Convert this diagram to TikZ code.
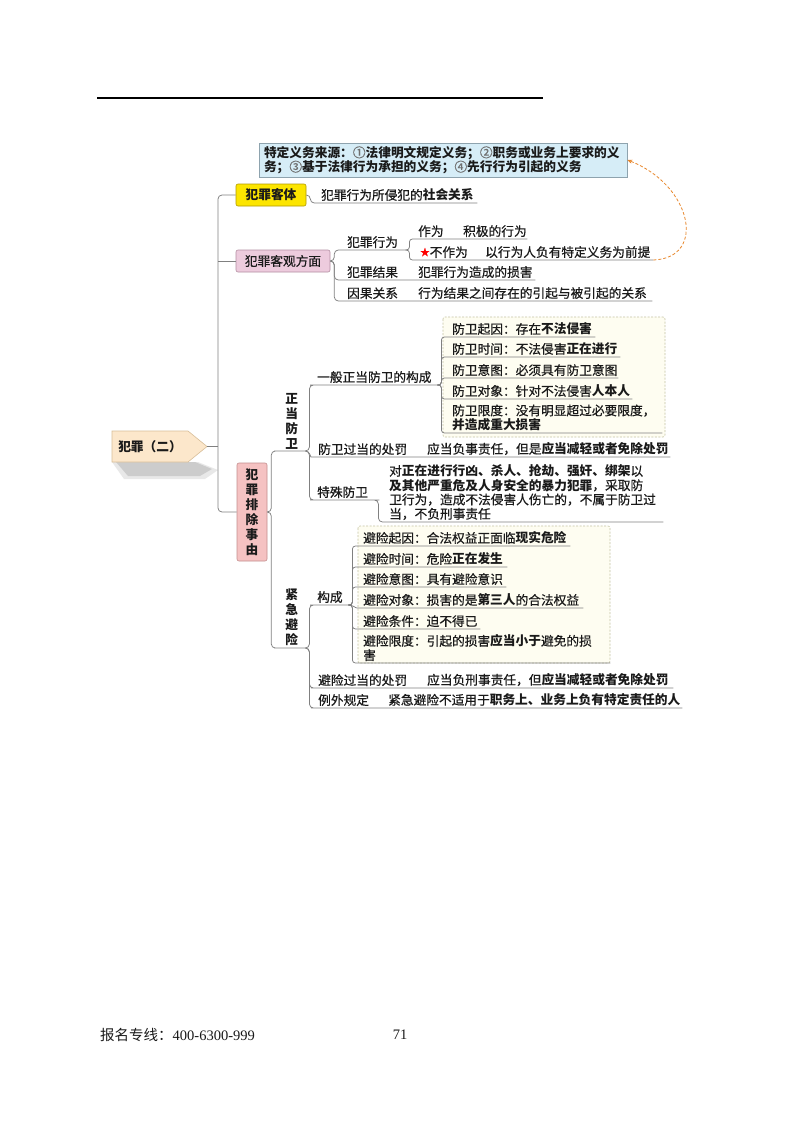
\documentclass[tikz,border=0pt]{standalone}
\usepackage{fontspec}
\setmainfont{Noto Sans CJK SC}
\newfontfamily\dg{Noto Sans CJK SC}[UprightFeatures={FakeBold=0.6}]
\newfontfamily\serifnum{Liberation Serif}
\usetikzlibrary{arrows.meta}
\definecolor{ktf}{HTML}{FCE500}
\definecolor{ktb}{HTML}{B09A00}
\definecolor{kgf}{HTML}{EDCBDD}
\definecolor{kgb}{HTML}{B48FA2}
\definecolor{pcf}{HTML}{F5C2C2}
\definecolor{pcb}{HTML}{C48E8E}
\definecolor{rootf}{HTML}{FCE7CB}
\definecolor{rootb}{HTML}{D8BE98}
\definecolor{deff}{HTML}{D6EDF7}
\definecolor{defb}{HTML}{8EA3AE}
\definecolor{grpf}{HTML}{FEFDF1}
\definecolor{grpb}{HTML}{C5C3A3}
\definecolor{lnc}{HTML}{808080}
\definecolor{arrc}{HTML}{E8872C}
\definecolor{numc}{HTML}{6F6F6F}
\definecolor{txt}{HTML}{1A1A1A}
\newcommand{\fs}{\dg\fontsize{12.7}{14.3}\selectfont}
\newcommand{\vfs}{\dg\fontsize{12.7}{15}\selectfont}
\newcommand{\cn}[1]{{\color{numc}\mdseries #1}}
\begin{document}
\begin{tikzpicture}[x=1pt,y=-1pt,
  conn/.style={draw=lnc, line width=0.75pt, rounded corners=4pt},
  sconn/.style={draw=lnc, line width=0.75pt, rounded corners=3pt},
  lf/.style={anchor=south west, inner xsep=3pt, inner ysep=1.8pt, align=left, font=\fs, text=txt},
  vlab/.style={anchor=south west, inner xsep=3pt, inner ysep=1.8pt, align=center, font=\vfs\bfseries, text=txt, text width=21pt},
  box1/.style={rounded corners=2pt, line width=0.6pt, inner sep=0pt, font=\fs, text=txt},
  grp/.style={draw=grpb, fill=grpf, dash pattern=on 2pt off 1.5pt, line width=0.6pt, rounded corners=2pt},
  defbox/.style={draw=defb, fill=deff, line width=0.6pt, text width=358pt, inner xsep=5pt, inner ysep=3pt, align=left, font=\fs\bfseries, text=txt, minimum height=34pt}
]
\useasboundingbox (0,0) rectangle (800,1124);
\fill[white] (0,0) rectangle (800,1124);

% top rule
\draw[line width=1.1pt] (97,98) -- (543,98);

% definition box
\node[defbox] (def) at (443,160) {特定义务来源：\cn{①}法律明文规定义务；\cn{②}职务或业务上要求的义\\务；\cn{③}基于法律行为承担的义务；\cn{④}先行行为引起的义务};

% group boxes
\draw[grp] (443,317) rectangle (665,437);
\draw[grp] (358,526) rectangle (610,663);

% root
\fill[gray!25, opacity=0.7] (112,462) -- (198,462) -- (218,470) -- (205,479) -- (124,479) -- cycle;
\fill[gray!45, opacity=0.8] (116,462) -- (195,462) -- (212,469) -- (200,476) -- (128,476) -- cycle;
\draw[draw=rootb, fill=rootf, line width=0.6pt] (112,431) -- (188,431) -- (207,446.5) -- (188,462) -- (112,462) -- cycle;
\node[font=\fs\bfseries, text=txt, inner sep=0pt] (root) at (150,446.5) {犯罪（二）};
\coordinate (rtip) at (207,446.5);
\coordinate (tr) at (218,446.5);

% level-1 boxes
\node[box1, draw=ktb, fill=ktf, minimum width=70pt, minimum height=22pt, font=\fs\bfseries] (kt) at (271,195) {犯罪客体};
\node[box1, draw=kgb, fill=kgf, minimum width=94pt, minimum height=22pt] (kg) at (283,261) {犯罪客观方面};
\node[box1, draw=pcb, fill=pcf, minimum width=30pt, minimum height=98pt, align=center, font=\vfs\bfseries] (pc) at (252,512) {犯\\罪\\排\\除\\事\\由};

% trunk
\draw[conn] (kt.west) -| (tr) |- (pc.west);
\draw[conn] (kg.west) -- (kg.west -| tr);
\draw[conn] (rtip) -- (tr);

% 犯罪客体
\node[lf, text width=153pt] (ka) at (318,203) {犯罪行为所侵犯的\textbf{社会关系}};
\draw[conn] (kt.east) -- ++(4,0) |- (ka.south west) -- (ka.south east);

% 犯罪客观方面
\node[lf, text width=55pt] (xw) at (344,250) {犯罪行为};
\node[lf, text width=51pt] (jg) at (344,280) {犯罪结果};
\node[lf, text width=114pt] (jgc) at (415,280) {犯罪行为造成的损害};
\node[lf, text width=51pt] (ygg) at (344,301) {因果关系};
\node[lf, text width=231pt] (yggc) at (415,301) {行为结果之间存在的引起与被引起的关系};
\draw[conn] (kg.east) -- ++(4,0) |- (xw.south west) -- (xw.south east);
\draw[conn] (kg.east) -- ++(4,0) |- (jg.south west) -- (jg.south east) -- (jgc.south west) -- (jgc.south east);
\draw[conn] (kg.east) -- ++(4,0) |- (ygg.south west) -- (ygg.south east) -- (yggc.south west) -- (yggc.south east);

\node[lf, text width=26pt] (zw) at (415,239) {作为};
\node[lf, text width=61pt] (zwc) at (460,239) {积极的行为};
\node[lf, text width=47pt] (bzw) at (417,260) {\raisebox{1.3pt}{\color{red}\fontsize{9.5}{9.5}\selectfont ★}不作为};
\node[lf, text width=165pt] (yw) at (482,260) {以行为人负有特定义务为前提};
\draw[sconn] (xw.south east) -- ++(4,0) |- (zw.south west) -- (zw.south east) -- (zwc.south west) -- (zwc.south east);
\draw[sconn] (xw.south east) -- ++(4,0) |- (bzw.south west) -- (bzw.south east) -- (yw.south west) -- (yw.south east);

% dashed arrow
\draw[arrc, line width=0.8pt, dash pattern=on 3pt off 2pt, -{Stealth[length=5pt,width=4pt]}] (yw.south east) .. controls (707,258) and (692,185) .. (def.east);

% 犯罪排除事由
\node[vlab] (zd) at (278,451) {正\\当\\防\\卫};
\node[vlab] (jx) at (278,648) {紧\\急\\避\\险};
\draw[conn] (pc.east) -- ++(4,0) |- (zd.south west) -- (zd.south east);
\draw[conn] (pc.east) -- ++(4,0) |- (jx.south west) -- (jx.south east);

% 正当防卫
\node[lf, text width=117pt] (yb) at (314,385) {一般正当防卫的构成};
\node[lf, text width=89pt] (fg) at (315,457) {防卫过当的处罚};
\node[lf, text width=240pt] (fgc) at (424,457) {应当负事责任，但是\textbf{应当减轻或者免除处罚}};
\node[lf, text width=55pt] (ts) at (314,500) {特殊防卫};
\node[lf, text width=271pt] (tsc) at (386,522) {对\textbf{正在进行行凶、杀人、抢劫、强奸、绑架}以\\\textbf{及其他严重危及人身安全的暴力犯罪}，采取防\\卫行为，造成不法侵害人伤亡的，不属于防卫过\\当，不负刑事责任};
\draw[conn] (zd.south east) -- ++(4,0) |- (yb.south west) -- (yb.south east);
\draw[conn] (zd.south east) to[out=0,in=180] (fg.south west) -- (fg.south east) -- (fgc.south west) -- (fgc.south east);
\draw[conn] (zd.south east) -- ++(4,0) |- (ts.south west) -- (ts.south east) -- ++(3,0) |- (tsc.south west) -- (tsc.south east);

\node[lf, text width=140pt] (a1) at (449,337) {防卫起因：存在\textbf{不法侵害}};
\node[lf, text width=165pt] (a2) at (449,357) {防卫时间：不法侵害\textbf{正在进行}};
\node[lf, text width=163pt] (a3) at (449,378) {防卫意图：必须具有防卫意图};
\node[lf, text width=177pt] (a4) at (449,399) {防卫对象：针对不法侵害\textbf{人本人}};
\node[lf, text width=207pt] (a5) at (449,433) {防卫限度：没有明显超过必要限度，\\\textbf{并造成重大损害}};
\foreach \n in {a1,a2,a3,a4,a5}
  \draw[sconn] (yb.south east) -- ++(4,0) |- (\n.south west) -- (\n.south east);

% 紧急避险
\node[lf, text width=28pt] (gc) at (314,605) {构成};
\node[lf, text width=89pt] (bf) at (315,688) {避险过当的处罚};
\node[lf, text width=243pt] (bfc) at (424,688) {应当负刑事责任，但\textbf{应当减轻或者免除处罚}};
\node[lf, text width=51pt] (lw) at (315,708) {例外规定};
\node[lf, text width=291pt] (lwc) at (385,708) {紧急避险不适用于\textbf{职务上、业务上负有特定责任的人}};
\draw[conn] (jx.south east) -- ++(4,0) |- (gc.south west) -- (gc.south east);
\draw[conn] (jx.south east) -- ++(4,0) |- (bf.south west) -- (bf.south east) -- (bfc.south west) -- (bfc.south east);
\draw[conn] (jx.south east) -- ++(4,0) |- (lw.south west) -- (lw.south east) -- (lwc.south west) -- (lwc.south east);

\node[lf, text width=204pt] (b1) at (360,546) {避险起因：合法权益正面临\textbf{现实危险}};
\node[lf, text width=141pt] (b2) at (360,567) {避险时间：危险\textbf{正在发生}};
\node[lf, text width=140pt] (b3) at (360,587) {避险意图：具有避险意识};
\node[lf, text width=217pt] (b4) at (360,608) {避险对象：损害的是\textbf{第三人}的合法权益};
\node[lf, text width=114pt] (b5) at (360,629) {避险条件：迫不得已};
\node[lf, text width=244pt] (b6) at (360,663) {避险限度：引起的损害\textbf{应当小于}避免的损\\害};
\foreach \n in {b1,b2,b3,b5,b6}
  \draw[sconn] (gc.south east) -- ++(4,0) |- (\n.south west) -- (\n.south east);
\draw[sconn] (gc.south east) to[out=0,in=180] (b4.south west) -- (b4.south east);

% footer
\node[anchor=west, inner sep=0pt, font=\fontsize{14.5}{16}\selectfont, text=txt] (tel) at (100,1035) {报名专线：{\serifnum 400-6300-999}};
\node[inner sep=0pt, font=\serifnum\fontsize{14.5}{16}\selectfont, text=txt] (pg) at (400,1035) {71};
\end{tikzpicture}
\end{document}
